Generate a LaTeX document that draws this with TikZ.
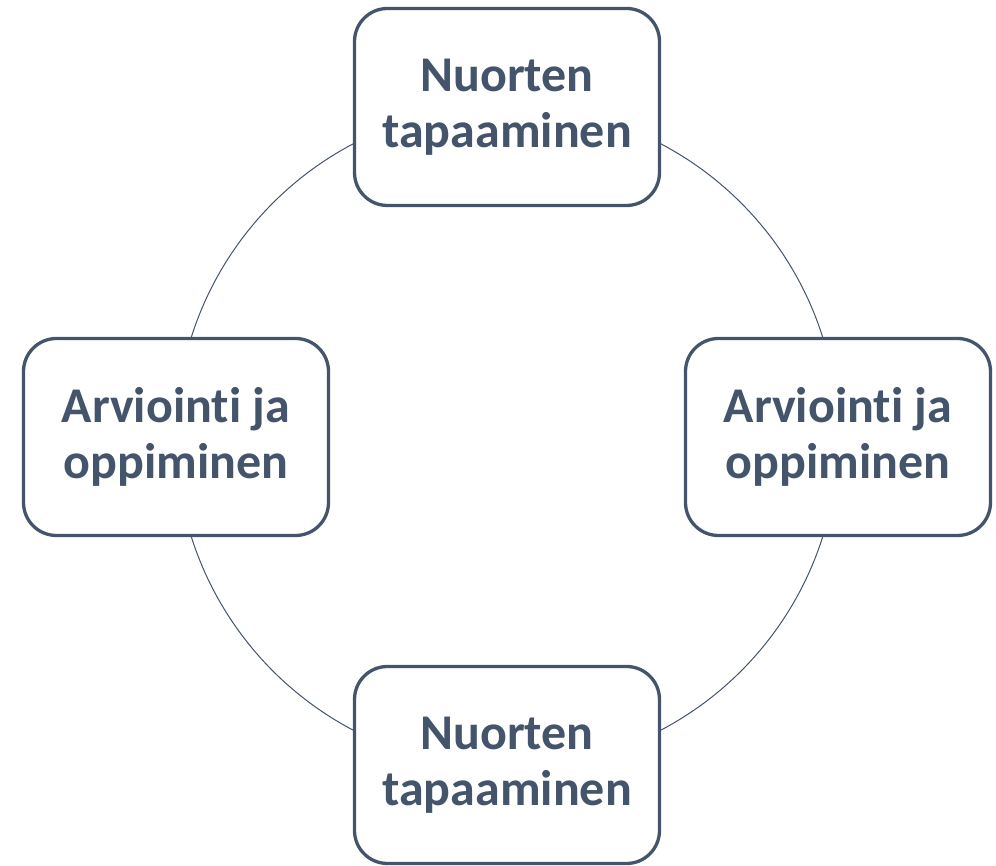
\documentclass[tikz,border=0pt]{standalone}
\usepackage{fontspec}
\setmainfont{Carlito}[Ligatures={NoCommon}]
\definecolor{slate}{HTML}{44546A}
\begin{document}
\begin{tikzpicture}[x=1pt,y=1pt,
  stagebox/.style={draw=slate, line width=3.3pt, fill=white, rounded corners=33pt,
    minimum width=305pt, minimum height=197pt, inner sep=0pt,
    text=slate, font=\fontsize{50}{56}\selectfont\bfseries, align=center},
  ring/.style={draw=slate, line width=1pt}]
\useasboundingbox (0,0) rectangle (996,866);
\coordinate (c) at (507,429);
\draw[ring] (c) circle (331);
\node[stagebox] (top) at (507,759) {Nuorten\\tapaaminen};
\node[stagebox] (bottom) at (507,101) {Nuorten\\tapaaminen};
\node[stagebox] (left) at (176,429) {Arviointi ja\\oppiminen};
\node[stagebox] (right) at (838,429) {Arviointi ja\\oppiminen};
\end{tikzpicture}
\end{document}
